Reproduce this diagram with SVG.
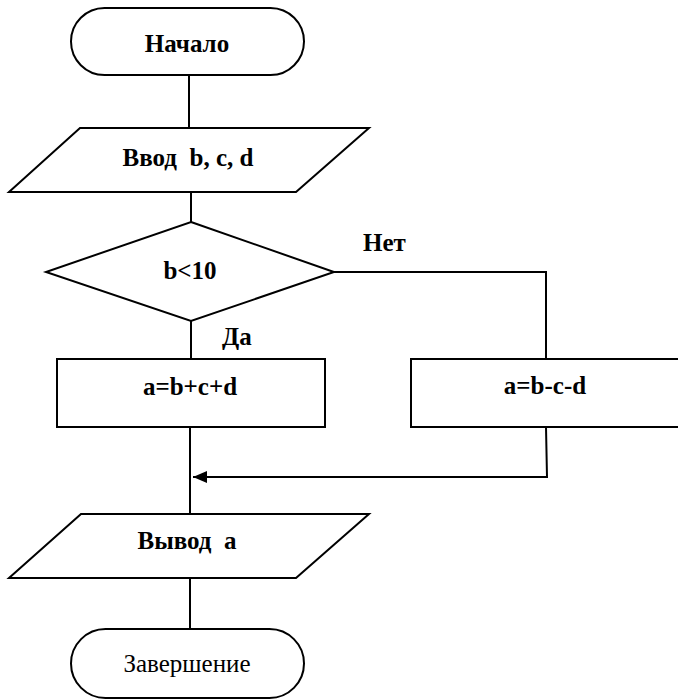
<svg xmlns="http://www.w3.org/2000/svg" width="678" height="700" viewBox="0 0 678 700">
<style>
.s{fill:#fff;stroke:#000;stroke-width:2}
.c{fill:none;stroke:#000;stroke-width:2}
text{font-family:'Liberation Serif','Times New Roman',serif;font-size:25px;font-weight:bold;text-anchor:middle}
.r{font-weight:normal}
.l{text-anchor:start}
</style>
<defs>
<marker id="ah" markerWidth="14" markerHeight="12" refX="14" refY="6" orient="auto" markerUnits="userSpaceOnUse">
<path d="M0,0 L14,6 L0,12 Z" fill="#000"/>
</marker>
</defs>
<rect width="678" height="700" fill="#fff"/>
<g id="connectors">
<line class="c" x1="189" y1="75" x2="189" y2="128"/>
<line class="c" x1="191" y1="192" x2="191" y2="222"/>
<line class="c" x1="191" y1="321" x2="191" y2="359"/>
<polyline class="c" points="334,272 546,272 546,359"/>
<line class="c" x1="190" y1="427" x2="190" y2="514"/>
<polyline class="c" points="546,427 547,477 193,477" marker-end="url(#ah)"/>
<line class="c" x1="190" y1="578" x2="190" y2="629"/>
<text class="l" x="363" y="251" font-family="Liberation Serif">Нет</text>
<text class="l" x="222" y="345" font-family="Liberation Serif">Да</text>
</g>
<g id="start">
<rect class="s" x="71" y="8" width="233" height="67" rx="33.5" ry="33.5"/>
<text x="187" y="52" font-family="Liberation Serif">Начало</text>
</g>
<g id="input">
<polygon class="s" points="80,128 369,128 296,192 9,192"/>
<text x="188" y="166" font-family="Liberation Serif" xml:space="preserve">Ввод  b, c, d</text>
</g>
<g id="decision">
<polygon class="s" points="191,222 334,272 191,321 46,272"/>
<text x="190" y="279" font-family="Liberation Serif">b&lt;10</text>
</g>
<g id="yes">
<rect class="s" x="57" y="359" width="268" height="68"/>
<text x="190" y="395" font-family="Liberation Serif">a=b+c+d</text>
</g>
<g id="no">
<rect class="s" x="411" y="359" width="272" height="68"/>
<text x="545" y="394" font-family="Liberation Serif">a=b-c-d</text>
</g>
<g id="output">
<polygon class="s" points="81,514 369,514 296,578 9,578"/>
<text x="187" y="549" font-family="Liberation Serif" xml:space="preserve">Вывод  a</text>
</g>
<g id="end">
<rect class="s" x="71" y="629" width="233" height="69" rx="34.5" ry="34.5"/>
<text class="r" x="187" y="672" font-family="Liberation Serif">Завершение</text>
</g>
</svg>
